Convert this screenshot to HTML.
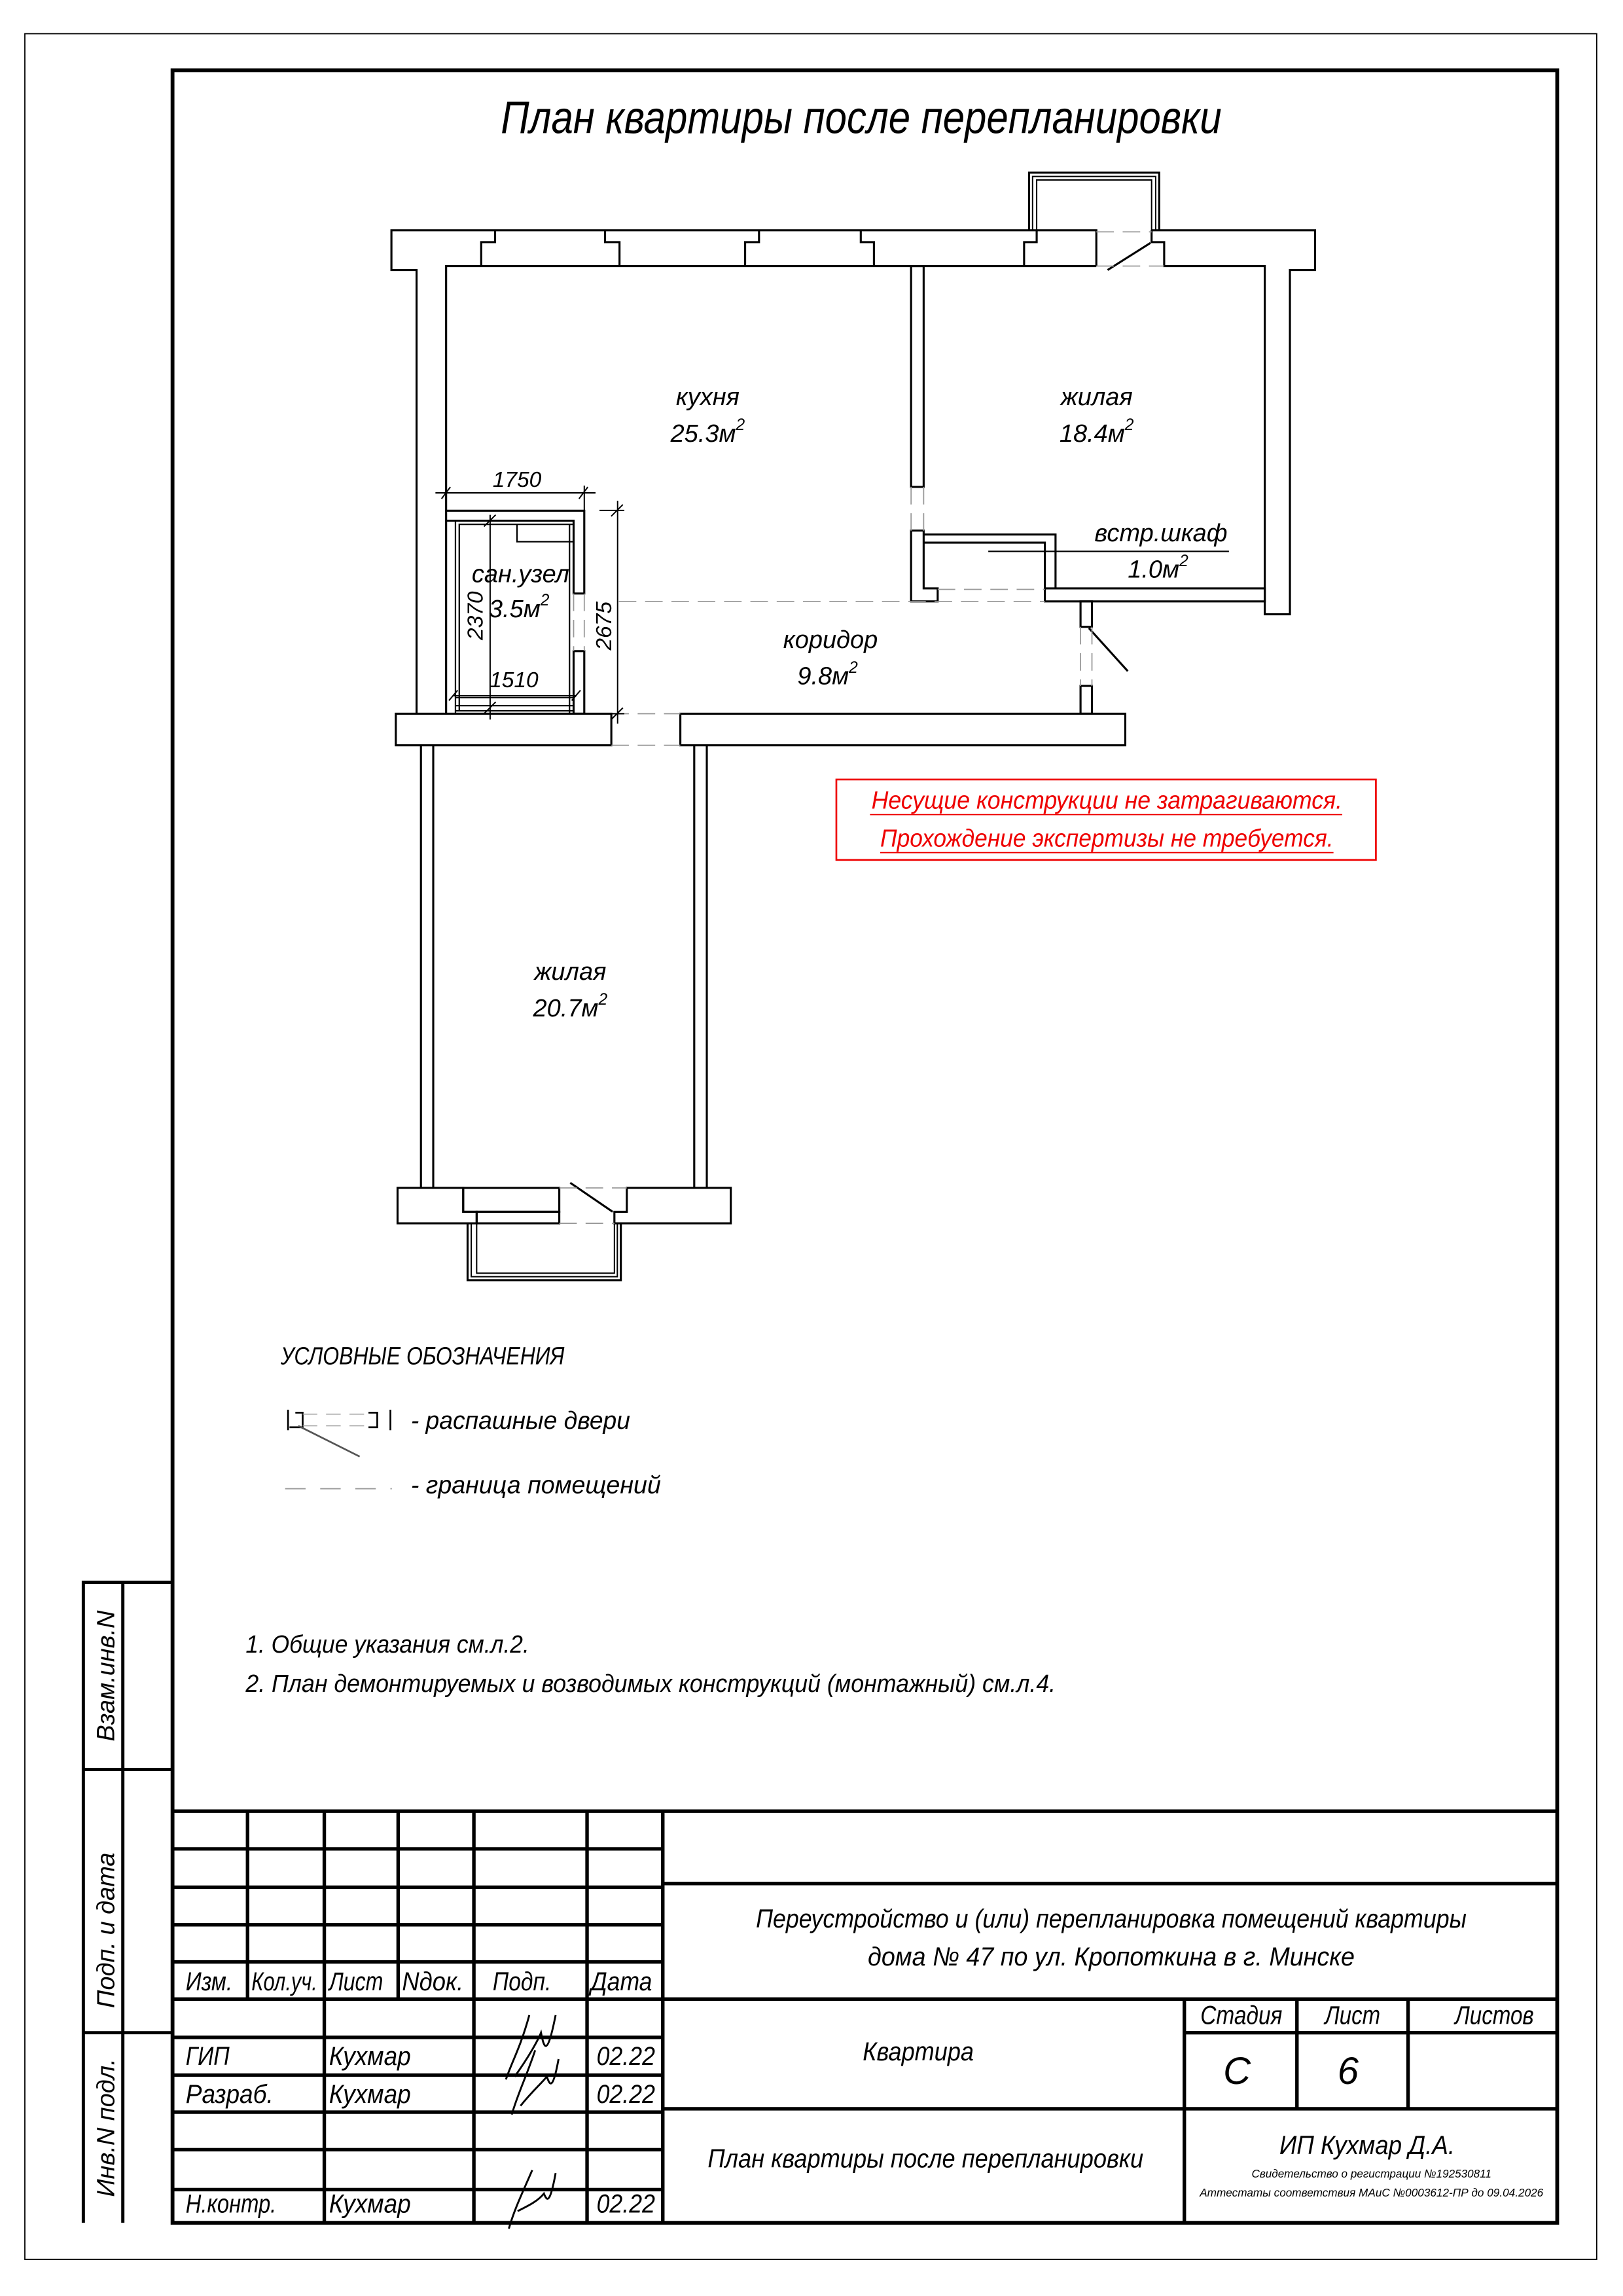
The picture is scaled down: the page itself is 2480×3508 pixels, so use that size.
<!DOCTYPE html>
<html><head><meta charset="utf-8"><style>
html,body{margin:0;padding:0;background:#fff}
svg{display:block}
text{font-family:"Liberation Sans",sans-serif;font-style:italic;fill:#000}
</style></head><body>
<svg xmlns="http://www.w3.org/2000/svg" width="2480" height="3508" viewBox="0 0 1110 1570">
<rect x="0" y="0" width="1110" height="1570" fill="#fff"/>
<!-- frames -->
<rect x="17" y="23" width="1075" height="1522" fill="none" stroke="#000" stroke-width="0.8"/>
<rect x="118" y="48" width="947" height="1472" fill="none" stroke="#000" stroke-width="2.6"/>

<text x="589" y="91" font-size="31" text-anchor="middle" textLength="493" lengthAdjust="spacingAndGlyphs">План квартиры после перепланировки</text>

<g fill="none" stroke="#000" stroke-width="1.4" stroke-linejoin="miter">
<!-- top wall -->
<path d="M284.9,488 V184.6 H267.7 V157.4 H749.8 V181.9"/>
<path d="M305.1,488 V181.9 H749.8"/>
<path d="M787.6,157.4 V165.5 H796.2 V181.9 H865 V420 H882.2 V184.6 H899.4 V157.4 H787.6"/>
<path d="M329.1,181.9 V165.5 H338.6 V157.4 M413.8,157.4 V165.5 H423.7 V181.9"/>
<path d="M509.6,181.9 V165.5 H519.1 V157.4 M588.7,157.4 V165.5 H597.7 V181.9"/>
<path d="M700.4,181.9 V165.5 H709 V157.4"/>
<path d="M757.5,184.6 L786.8,166.1"/>
<!-- balcony top -->
<path d="M703.8,157.4 V118 H792.8 V157.4"/>
<path d="M706.2,157.4 V120.6 H790.4 V157.4" stroke-width="0.9"/>
<path d="M709,157.4 V123 H787.6 V157.4" stroke-width="0.9"/>
<!-- partition -->
<rect x="623.1" y="181.9" width="8.6" height="151"/>
<!-- closet -->
<path d="M631.7,362.8 H623.1 V411.2 H641.3 V402.3 H631.7 Z"/>
<path d="M631.7,365.5 H721.9 V402.3 M631.7,371 H714.6 V402.3"/>
<rect x="714.6" y="402.3" width="150.4" height="8.9"/>
<path d="M675.9,377 H840.5" stroke-width="1"/>
<!-- corridor partition -->
<rect x="739" y="411.2" width="7.8" height="17.4"/>
<rect x="739" y="469" width="7.8" height="19"/>
<path d="M744.7,429.5 L771.3,458.9"/>
<!-- bathroom -->
<path d="M305.1,349.2 H399.6 V405.8 H392.3 V356 H305.1"/>
<rect x="392.3" y="445.2" width="7.3" height="42.8"/>
<path d="M311.5,488 V356 M314.1,486 V358.5 H392.3 M311.5,356 H392.3" stroke-width="1"/>
<path d="M353.6,358.5 V370.4 H392.3" stroke-width="1"/>
<path d="M311.5,477 H392.3 M311.5,482.5 H392.3 M311.5,486 H392.3 M389.5,358.5 V488" stroke-width="1"/>
<!-- bottom wall upper -->
<rect x="270.7" y="488" width="147.4" height="21.6"/>
<rect x="465.3" y="488" width="304.3" height="21.6"/>
<!-- lower room -->
<path d="M287.9,509.6 V812.3 M296.3,509.6 V812.3 M474.8,509.6 V812.3 M483.4,509.6 V812.3"/>
<path d="M271.9,812.3 H316.8 V828.6 H326 V836.5 H271.9 Z"/>
<rect x="316.8" y="812.3" width="65.7" height="16.3"/>
<rect x="326" y="828.6" width="56.5" height="7.9"/>
<path d="M428.7,812.3 H499.8 V836.5 H420.2 V828.6 H428.7 Z"/>
<path d="M390,808.8 L419,828.6"/>
<path d="M319.8,836.5 V875.4 H424.6 V836.5"/>
<path d="M322.3,836.5 V873 H422.2 V836.5" stroke-width="0.9"/>
<path d="M326,836.5 V870.6 H420.2 V836.5" stroke-width="0.9"/>
</g>

<!-- dashed boundaries -->
<g fill="none" stroke="#999" stroke-width="0.8" stroke-dasharray="12,6">
<path d="M749.8,158.5 H787.6 M749.8,181.9 H796.2"/>
<path d="M623.1,332.9 V362.8 M631.7,332.9 V362.8"/>
<path d="M423.2,411.2 H714.6 M641.3,403 H714.6"/>
<path d="M739,428.6 V469 M746.8,428.6 V469"/>
<path d="M418.1,488 H465.3 M418.1,509.6 H465.3"/>
<path d="M382.5,812.3 H428.7 M382.5,836.5 H420.2"/>
<path d="M392.3,405.8 V445.2 M399.6,405.8 V445.2"/>
</g>

<!-- dimensions -->
<g fill="none" stroke="#000" stroke-width="0.9">
<path d="M297.8,337 H407.3 M305.1,332 V349 M399.6,332 V349"/>
<path d="M302,341 L308,333 M396,341 L402,333"/>
<path d="M422.4,342.4 V494.8 M410,349 H427 M410,488 H427"/>
<path d="M418,353 L426,345 M418,492 L426,484"/>
<path d="M335.2,352 V492 M331,360 L339,352 M331,488 L339,480"/>
<path d="M309.8,475.7 H394.4 M307,479 L313,472 M391,479 L397,472"/>
</g>
<text x="353.6" y="333" font-size="15" text-anchor="middle">1750</text>
<text x="351.5" y="470" font-size="15" text-anchor="middle">1510</text>
<text transform="translate(330,421) rotate(-90)" font-size="15" text-anchor="middle">2370</text>
<text transform="translate(418,428) rotate(-90)" font-size="15" text-anchor="middle">2675</text>

<!-- room labels -->
<g font-size="17" text-anchor="middle">
<text x="484" y="277">кухня</text>
<text x="484" y="302">25.3м<tspan font-size="11" dy="-8">2</tspan></text>
<text x="750" y="277">жилая</text>
<text x="750" y="302">18.4м<tspan font-size="11" dy="-8">2</tspan></text>
<text x="794" y="370">встр.шкаф</text>
<text x="792" y="395">1.0м<tspan font-size="11" dy="-8">2</tspan></text>
<text x="356" y="398">сан.узел</text>
<text x="355" y="422">3.5м<tspan font-size="11" dy="-8">2</tspan></text>
<text x="568" y="443">коридор</text>
<text x="566" y="468">9.8м<tspan font-size="11" dy="-8">2</tspan></text>
<text x="390" y="670">жилая</text>
<text x="390" y="695">20.7м<tspan font-size="11" dy="-8">2</tspan></text>
</g>

<!-- red box -->
<rect x="572" y="533" width="369" height="55" fill="none" stroke="#e00" stroke-width="1.2"/>
<text x="757" y="553" font-size="17" text-anchor="middle" style="fill:#e00" textLength="322" lengthAdjust="spacingAndGlyphs">Несущие конструкции не затрагиваются.</text>
<text x="757" y="579" font-size="17" text-anchor="middle" style="fill:#e00" textLength="310" lengthAdjust="spacingAndGlyphs">Прохождение экспертизы не требуется.</text>
<path d="M595,557 H918 M602,583 H912" stroke="#e00" stroke-width="0.8"/>

<!-- legend -->
<text x="192" y="933" font-size="17" textLength="194" lengthAdjust="spacingAndGlyphs">УСЛОВНЫЕ ОБОЗНАЧЕНИЯ</text>
<g fill="none" stroke="#000" stroke-width="1.2">
<path d="M197,964 V978 M202,966 H207 V976 H198 M252,966 H258 V976 H252 M267,964 V978"/>
<path d="M204,975 L246,996" stroke="#555"/>
</g>
<path d="M207,967 H252 M207,975 H252" stroke="#999" stroke-width="0.7" stroke-dasharray="10,6"/>
<text x="281" y="977" font-size="17" textLength="150" lengthAdjust="spacingAndGlyphs">- распашные двери</text>
<path d="M195,1018 H268" stroke="#999" stroke-width="0.8" stroke-dasharray="14,10"/>
<text x="281" y="1021" font-size="17" textLength="171" lengthAdjust="spacingAndGlyphs">- граница помещений</text>

<text x="168" y="1130" font-size="17" textLength="194" lengthAdjust="spacingAndGlyphs">1. Общие указания см.л.2.</text>
<text x="168" y="1157" font-size="17" textLength="554" lengthAdjust="spacingAndGlyphs">2. План демонтируемых и возводимых конструкций (монтажный) см.л.4.</text>

<!-- left strip -->
<g fill="none" stroke="#000" stroke-width="2.2">
<path d="M57,1520 V1082 H118 M84,1082 V1520 M57,1210 H118 M57,1390 H118"/>
</g>
<text transform="translate(78,1146) rotate(-90)" font-size="17" text-anchor="middle">Взам.инв.N</text>
<text transform="translate(78,1320) rotate(-90)" font-size="17" text-anchor="middle">Подп. и дата</text>
<text transform="translate(78,1455) rotate(-90)" font-size="17" text-anchor="middle">Инв.N подл.</text>

<!-- title block -->
<g fill="none" stroke="#000" stroke-width="2.4">
<path d="M118,1238.5 H1065"/>
<path d="M169.3,1238.5 V1367 M221.8,1238.5 V1520 M272.3,1238.5 V1367 M324.1,1238.5 V1520 M401.5,1238.5 V1520 M453.3,1238.5 V1520"/>
<path d="M118,1264.3 H453.3 M118,1290.5 H453.3 M118,1316.2 H453.3 M118,1341.6 H453.3 M118,1367 H1065"/>
<path d="M118,1393.2 H453.3 M118,1419 H453.3 M118,1444.3 H453.3 M118,1470 H453.3 M118,1497.3 H453.3"/>
<path d="M453.3,1288 H1065 M453.3,1442 H1065 M810,1367 V1520 M887,1367 V1442 M963,1367 V1442 M810,1390 H1065"/>
</g>
<g font-size="18">
<text x="760" y="1318" text-anchor="middle" textLength="486" lengthAdjust="spacingAndGlyphs">Переустройство и (или) перепланировка помещений квартиры</text>
<text x="760" y="1344" text-anchor="middle" textLength="333" lengthAdjust="spacingAndGlyphs">дома № 47 по ул. Кропоткина в г. Минске</text>
<text x="127" y="1361" textLength="32" lengthAdjust="spacingAndGlyphs">Изм.</text>
<text x="172" y="1361" textLength="45" lengthAdjust="spacingAndGlyphs">Кол.уч.</text>
<text x="225" y="1361" textLength="37" lengthAdjust="spacingAndGlyphs">Лист</text>
<text x="275" y="1361" textLength="42" lengthAdjust="spacingAndGlyphs">Nдок.</text>
<text x="337" y="1361" textLength="40" lengthAdjust="spacingAndGlyphs">Подп.</text>
<text x="404" y="1361" textLength="42" lengthAdjust="spacingAndGlyphs">Дата</text>
<text x="127" y="1412" textLength="30" lengthAdjust="spacingAndGlyphs">ГИП</text>
<text x="225" y="1412" textLength="56" lengthAdjust="spacingAndGlyphs">Кухмар</text>
<text x="408" y="1412" textLength="40" lengthAdjust="spacingAndGlyphs">02.22</text>
<text x="127" y="1438" textLength="60" lengthAdjust="spacingAndGlyphs">Разраб.</text>
<text x="225" y="1438" textLength="56" lengthAdjust="spacingAndGlyphs">Кухмар</text>
<text x="408" y="1438" textLength="40" lengthAdjust="spacingAndGlyphs">02.22</text>
<text x="127" y="1513" textLength="62" lengthAdjust="spacingAndGlyphs">Н.контр.</text>
<text x="225" y="1513" textLength="56" lengthAdjust="spacingAndGlyphs">Кухмар</text>
<text x="408" y="1513" textLength="40" lengthAdjust="spacingAndGlyphs">02.22</text>
<text x="849" y="1384" text-anchor="middle" textLength="56" lengthAdjust="spacingAndGlyphs">Стадия</text>
<text x="925" y="1384" text-anchor="middle" textLength="38" lengthAdjust="spacingAndGlyphs">Лист</text>
<text x="1022" y="1384" text-anchor="middle" textLength="54" lengthAdjust="spacingAndGlyphs">Листов</text>
<text x="628" y="1409" text-anchor="middle" textLength="76" lengthAdjust="spacingAndGlyphs">Квартира</text>
<text x="633" y="1482" text-anchor="middle" textLength="298" lengthAdjust="spacingAndGlyphs">План квартиры после перепланировки</text>
<text x="935" y="1473" text-anchor="middle" textLength="120" lengthAdjust="spacingAndGlyphs">ИП Кухмар Д.А.</text>
</g>
<text x="846" y="1425" font-size="26" text-anchor="middle">С</text>
<text x="922" y="1425" font-size="26" text-anchor="middle">6</text>
<text x="938" y="1489" font-size="8" text-anchor="middle" textLength="164" lengthAdjust="spacingAndGlyphs">Свидетельство о регистрации №192530811</text>
<text x="938" y="1502" font-size="8" text-anchor="middle" textLength="235" lengthAdjust="spacingAndGlyphs">Аттестаты соответствия МАиС №0003612-ПР до 09.04.2026</text>

<!-- signatures -->
<g fill="none" stroke="#000" stroke-width="1.3">
<path d="M346,1422 C350,1410 356,1400 362,1378 M352,1420 C362,1406 368,1395 370,1390 C372,1400 374,1408 380,1378"/>
<path d="M350,1446 C354,1432 360,1420 366,1402 M356,1440 C364,1430 370,1425 374,1420 C376,1426 378,1430 382,1408"/>
<path d="M348,1524 C352,1510 358,1498 364,1484 M354,1512 C362,1508 368,1505 372,1500 C374,1505 376,1508 380,1486"/>
</g>
</svg>
</body></html>
